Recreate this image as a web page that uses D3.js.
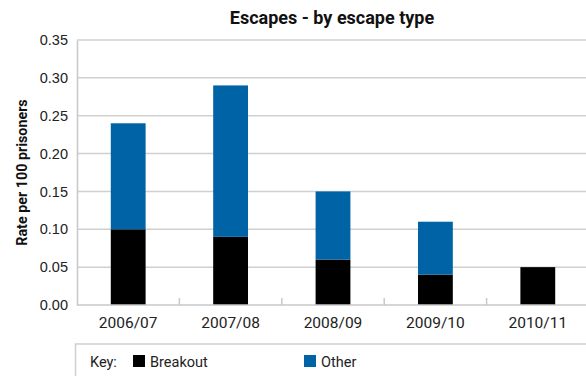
<!DOCTYPE html>
<html>
<head>
<meta charset="utf-8">
<script src="https://cdn.jsdelivr.net/npm/d3@7"></script>
<style>
  html, body { margin: 0; padding: 0; background: #fff; }
  svg { display: block; }
</style>
</head>
<body>
<svg id="chart" width="586" height="376"></svg>
<script>
// Escape rates per 100 prisoners, split by escape type
const years = ["2006/07", "2007/08", "2008/09", "2009/10", "2010/11"];
const breakout = [0.10, 0.09, 0.06, 0.04, 0.05];
const other = [0.14, 0.20, 0.09, 0.07, 0.00];
const yTicks = [0, 0.05, 0.10, 0.15, 0.20, 0.25, 0.30, 0.35];
const seriesNames = ["Breakout", "Other"];
const colors = { Breakout: "#000000", Other: "#0063a5" };

const svg = d3.select("#chart");
const margin = { left: 77, right: -3, top: 40, bottom: 71 };
const W = 586, H = 376;

const x = d3.scaleBand().domain(years)
  .range([margin.left, W - margin.right]).paddingInner(0.66).paddingOuter(0.33);
const y = d3.scaleLinear().domain([0, 0.35]).range([H - margin.bottom, margin.top]);

const rows = years.map((yr, i) => ({ year: yr, Breakout: breakout[i], Other: other[i] }));
const stacked = d3.stack().keys(seriesNames)(rows);

// Horizontal gridlines
svg.append("g").selectAll("line").data(yTicks.slice(1)).join("line")
  .attr("x1", margin.left).attr("x2", W)
  .attr("y1", d => y(d)).attr("y2", d => y(d))
  .attr("stroke", "#d0d0d0").attr("stroke-width", 1.5);

// Y axis
const yAxis = svg.append("g").attr("transform", `translate(${margin.left},0)`)
  .call(d3.axisLeft(y).tickValues(yTicks).tickFormat(d3.format(".2f")).tickSize(0).tickPadding(9));
yAxis.select(".domain").attr("stroke", "#c8c8c8").attr("stroke-width", 1.5);
yAxis.selectAll("text").attr("font-family", "Liberation Sans, Arial, sans-serif")
  .attr("font-size", 14.5).attr("fill", "#222");

// Stacked bars
svg.append("g").selectAll("g").data(stacked).join("g")
  .attr("fill", d => colors[d.key])
  .selectAll("rect").data(d => d).join("rect")
  .attr("x", d => x(d.data.year))
  .attr("width", x.bandwidth())
  .attr("y", d => y(d[1]))
  .attr("height", d => y(d[0]) - y(d[1]));

// X axis with ticks between categories
const step = x.step();
const boundaries = years.slice(1).map(yr => x(yr) - step * x.paddingInner() / 2);
const xg = svg.append("g");
xg.append("line").attr("x1", margin.left).attr("x2", W)
  .attr("y1", y(0)).attr("y2", y(0)).attr("stroke", "#c8c8c8").attr("stroke-width", 1.5);
xg.selectAll("line.tk").data(boundaries).join("line").attr("class", "tk")
  .attr("x1", d => d).attr("x2", d => d)
  .attr("y1", y(0)).attr("y2", y(0) - 7)
  .attr("stroke", "#c8c8c8").attr("stroke-width", 1.5);
xg.selectAll("text").data(years).join("text")
  .attr("x", d => x(d) + x.bandwidth() / 2).attr("y", y(0) + 23)
  .attr("text-anchor", "middle")
  .attr("font-family", "Roboto, sans-serif").attr("font-size", 15.5).attr("fill", "#222")
  .text(d => d);

// Title
svg.append("text").attr("x", 332).attr("y", 24).attr("text-anchor", "middle")
  .attr("font-family", "Roboto, sans-serif").attr("font-weight", "bold")
  .attr("font-size", 18).attr("fill", "#111").text("Escapes - by escape type");

// Y axis title
svg.append("text").attr("transform", `translate(27,${(y(0.35) + y(0)) / 2}) rotate(-90)`)
  .attr("text-anchor", "middle")
  .attr("font-family", "Roboto, sans-serif").attr("font-weight", "bold")
  .attr("font-size", 14.3).attr("fill", "#111").text("Rate per 100 prisoners");

// Key
const key = svg.append("g");
key.append("path").attr("d", `M${W},344H75.5V${H}`)
  .attr("fill", "none").attr("stroke", "#d0d0d0").attr("stroke-width", 1.5);
key.append("text").attr("x", 90).attr("y", 367)
  .attr("font-family", "Roboto, sans-serif").attr("font-size", 14.5).attr("fill", "#222").text("Key:");
const keyX = { Breakout: 133, Other: 304 };
const items = key.selectAll("g.item").data(seriesNames).join("g").attr("class", "item")
  .attr("transform", d => `translate(${keyX[d]},355)`);
items.append("rect").attr("width", 12).attr("height", 12).attr("fill", d => colors[d]);
items.append("text").attr("x", 17).attr("y", 11.5)
  .attr("font-family", "Roboto, sans-serif").attr("font-size", 14.5).attr("fill", "#222").text(d => d);
</script>
</body>
</html>
